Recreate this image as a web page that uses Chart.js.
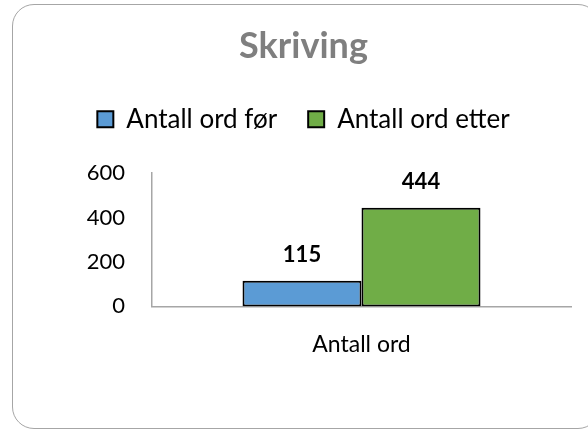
<!DOCTYPE html>
<html>
<head>
<meta charset="utf-8">
<script src="https://cdn.jsdelivr.net/npm/chart.js@4"></script>
<style>
  html, body { margin: 0; padding: 0; width: 588px; height: 429px; overflow: hidden; background: #fff; }
  #frame {
    position: absolute; left: 12px; top: 4px; width: 586px; height: 423px;
    border: 1.5px solid #a6a6a6; border-radius: 22px;
  }
  #myChart { position: absolute; left: 0; top: 0; }
</style>
</head>
<body>
<div id="frame"></div>
<canvas id="myChart" width="588" height="429"></canvas>
<script>
const categories = ['Antall ord'];
const seriesNames = ['Antall ord før', 'Antall ord etter'];
const wordsBefore = [115];
const wordsAfter = [444];
const yTicks = [0, 200, 400, 600];

Chart.defaults.font.family = 'Lato, "Open Sans", sans-serif';
Chart.defaults.color = '#000';

// skriver verdien over hver søyle
const valueLabels = {
    id: 'valueLabels',
    afterDatasetsDraw(chart) {
        const ctx = chart.ctx;
        ctx.save();
        ctx.font = 'bold 22px Lato, sans-serif';
        ctx.fillStyle = '#000';
        ctx.textAlign = 'center';
        ctx.textBaseline = 'middle';
        chart.data.datasets.forEach((ds, i) => {
            chart.getDatasetMeta(i).data.forEach((bar, j) => {
                ctx.fillText(ds.data[j], bar.x, bar.y - 26);
            });
        });
        ctx.restore();
    }
};

// mer luft under forklaringen
const legendGap = {
    id: 'legendGap',
    beforeLayout(chart) {
        const lg = chart.legend;
        if (lg && !lg._gapPatched) {
            const fit = lg.fit;
            lg.fit = function () { fit.call(this); this.height += 31; };
            lg._gapPatched = true;
        }
    }
};

const ctx = document.getElementById('myChart').getContext('2d');
const chart = new Chart(ctx, {
    type: 'bar',
    data: {
        labels: categories,
        datasets: [{
            label: seriesNames[0],
            data: wordsBefore,
            backgroundColor: '#5b9bd5',
            borderColor: '#000',
            borderWidth: 2,
            borderSkipped: false
        }, {
            label: seriesNames[1],
            data: wordsAfter,
            backgroundColor: '#70ad47',
            borderColor: '#000',
            borderWidth: 2,
            borderSkipped: false
        }]
    },
    options: {
        responsive: false,
        animation: false,
        layout: { padding: { left: 36, right: 17, top: 0, bottom: 47 } },
        datasets: {
            bar: { categoryPercentage: 0.568, barPercentage: 1 }
        },
        plugins: {
            title: {
                display: true,
                text: 'Skriving',
                color: '#7f7f7f',
                font: { size: 36, weight: 'bold' },
                padding: { top: 25, bottom: 7 }
            },
            legend: {
                labels: {
                    boxWidth: 16,
                    boxHeight: 16,
                    padding: 31,
                    color: '#000',
                    font: { size: 26 }
                }
            },
            tooltip: { enabled: false }
        },
        scales: {
            x: {
                grid: { display: false, drawTicks: false },
                border: { color: '#a6a6a6', width: 1.5 },
                ticks: { padding: 24, font: { size: 23 } }
            },
            y: {
                min: 0,
                max: 600,
                afterFit(scale) { scale.width = 116; },
                afterBuildTicks(scale) { scale.ticks = yTicks.map(v => ({ value: v })); },
                grid: { display: false, drawTicks: false },
                border: { color: '#a6a6a6', width: 1.5 },
                ticks: { padding: 27, font: { size: 22 } }
            }
        }
    },
    plugins: [valueLabels, legendGap]
});
</script>
</body>
</html>
